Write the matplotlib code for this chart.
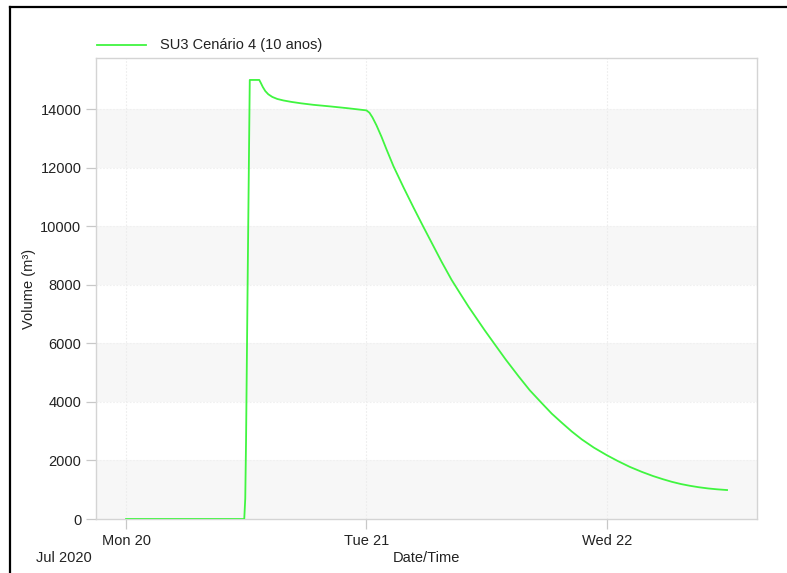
import matplotlib
matplotlib.use("Agg")
import matplotlib.pyplot as plt
import pandas as pd
from matplotlib.lines import Line2D

plt.rcParams['font.family'] = ['Liberation Sans', 'DejaVu Sans']

# Storage unit volume, hours after 2020-07-20 00:00
hours = [0, 11.8, 11.9, 11.98, 12.15, 12.35, 13.3, 13.45, 13.65, 13.9, 14.2,
         14.6, 15.1, 15.7, 16.5, 17.5, 18.7, 20.4, 22.1, 24.0, 24.3, 24.6,
         25.0, 25.5, 26.0, 26.7, 27.7, 28.7, 29.7, 30.6, 31.5, 32.5, 33.4,
         34.2, 35.0, 35.8, 36.7, 37.9, 39.2, 40.3, 41.5, 42.5, 43.5, 44.5,
         45.5, 46.7, 48.0, 49.1, 50.3, 51.5, 52.6, 53.6, 54.5, 55.4, 56.3,
         57.2, 58.1, 59.0, 60.0]
volume = [0, 0, 700, 2700, 8500, 15000, 15000, 14900, 14760, 14620, 14510,
          14420, 14350, 14300, 14250, 14200, 14150, 14095, 14035, 13960, 13880, 13720,
          13450, 13060, 12630, 12050, 11330, 10640, 9970, 9380, 8790, 8170, 7680,
          7250, 6850, 6450, 6020, 5450, 4870, 4400, 3960, 3600, 3290, 2990,
          2720, 2440, 2180, 1980, 1780, 1610, 1470, 1360, 1270, 1195, 1135,
          1085, 1045, 1015, 990]
series_label = "SU3 Cenário 4 (10 anos)"
x_tick_days = ["2020-07-20", "2020-07-21", "2020-07-22"]
x_tick_labels = ["Mon 20", "Tue 21", "Wed 22"]
y_ticks = [0, 2000, 4000, 6000, 8000, 10000, 12000, 14000]

start = pd.Timestamp("2020-07-20")
times = [start + pd.Timedelta(hours=h) for h in hours]

fig = plt.figure(figsize=(7.87, 5.73), dpi=100)
ax = fig.add_axes([0.122, 0.0942, 0.840, 0.8046])

# alternating horizontal bands
for i in range(0, len(y_ticks), 2):
    ax.axhspan(y_ticks[i], y_ticks[i] + 2000, color='#f7f7f7', lw=0, zorder=0)

tick_dates = [pd.Timestamp(d) for d in x_tick_days]
for d in tick_dates:
    ax.axvline(d, color='#ececec', lw=0.8, ls=(0, (1.5, 1.5)), zorder=0.5)
for y in y_ticks[1:]:
    ax.axhline(y, color='#f0f0f0', lw=0.8, ls=(0, (1.5, 1.5)), zorder=0.5)

ax.plot(times, volume, color='#40f540', lw=1.3, zorder=3)

ax.set_xlim(start - pd.Timedelta(hours=3), start + pd.Timedelta(hours=63))
ax.set_ylim(0, 15750)
ax.set_xticks(tick_dates)
ax.set_xticklabels(x_tick_labels)
ax.set_yticks(y_ticks)
ax.set_yticklabels([str(v) for v in y_ticks])

for s in ax.spines.values():
    s.set_color('#d4d4d4')
    s.set_linewidth(1.0)
ax.tick_params(axis='both', colors='#c8c8c8', labelcolor='#222222',
               labelsize=10.5, length=7, width=0.9)
ax.tick_params(axis='x', pad=4)

ax.set_ylabel("Volume (m³)", fontsize=10.5, color='#222222', labelpad=3)
fig.text(0.5415, 0.026, "Date/Time", ha='center', va='center',
         fontsize=10.5, color='#222222')
fig.text(0.081, 0.026, "Jul 2020", ha='center', va='center',
         fontsize=10.5, color='#222222')

# legend above the plot area
fig.add_artist(Line2D([97 / 787, 146 / 787], [1 - 45 / 573, 1 - 45 / 573],
                      color='#40f540', lw=1.3))
fig.text(160 / 787, 1 - 45 / 573, series_label, ha='left', va='center',
         fontsize=10.5, color='#222222')

# outer frame
fig.add_artist(Line2D([10 / 787, 10 / 787], [0, 1 - 7 / 573], color='black', lw=1.6))
fig.add_artist(Line2D([10 / 787, 1], [1 - 7 / 573, 1 - 7 / 573], color='black', lw=1.6))

fig.savefig("out.png", dpi=100)
